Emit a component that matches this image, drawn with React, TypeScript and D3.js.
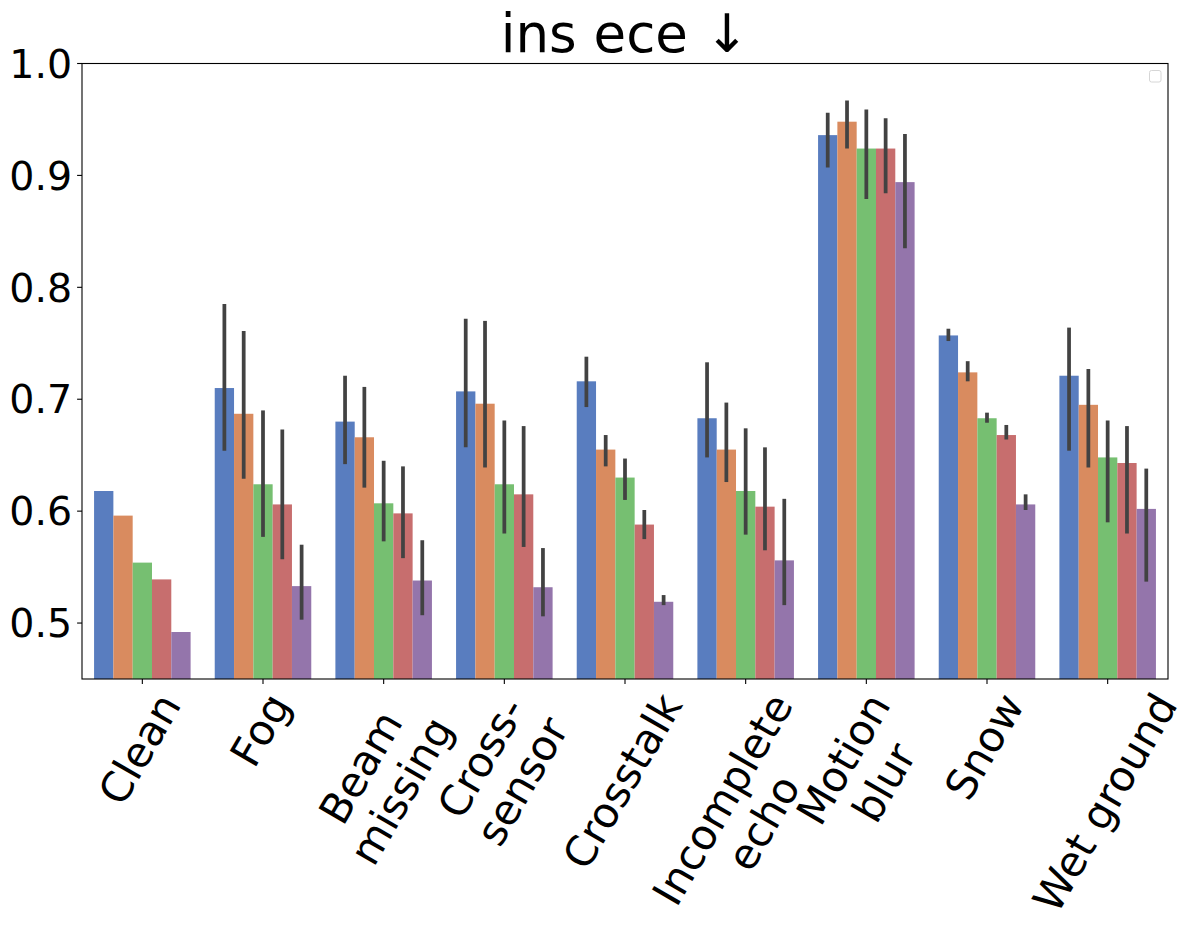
import React, { useEffect } from "react";
import * as d3 from "d3";

const categories = ["Clean", "Fog", "Beam\nmissing", "Cross-\nsensor", "Crosstalk", "Incomplete\necho", "Motion\nblur", "Snow", "Wet ground"];
const seriesNames = ["s1", "s2", "s3", "s4", "s5"];
const colors = ["#597dbf", "#d98b5f", "#76bf71", "#c76e6e", "#9475ab"];

const meanS1 = [0.618, 0.710, 0.680, 0.707, 0.716, 0.683, 0.936, 0.757, 0.721];
const meanS2 = [0.596, 0.687, 0.666, 0.696, 0.655, 0.655, 0.948, 0.724, 0.695];
const meanS3 = [0.554, 0.624, 0.607, 0.624, 0.630, 0.618, 0.924, 0.683, 0.648];
const meanS4 = [0.539, 0.606, 0.598, 0.615, 0.588, 0.604, 0.924, 0.668, 0.643];
const meanS5 = [0.492, 0.533, 0.538, 0.532, 0.519, 0.556, 0.894, 0.606, 0.602];

const loS1 = [null, 0.654, 0.642, 0.657, 0.693, 0.648, 0.907, 0.752, 0.654];
const hiS1 = [null, 0.785, 0.721, 0.772, 0.738, 0.733, 0.956, 0.763, 0.764];
const loS2 = [null, 0.629, 0.621, 0.639, 0.640, 0.626, 0.924, 0.716, 0.639];
const hiS2 = [null, 0.761, 0.711, 0.770, 0.668, 0.697, 0.967, 0.734, 0.727];
const loS3 = [null, 0.577, 0.573, 0.580, 0.610, 0.579, 0.879, 0.679, 0.590];
const hiS3 = [null, 0.690, 0.645, 0.681, 0.647, 0.674, 0.959, 0.688, 0.681];
const loS4 = [null, 0.557, 0.558, 0.568, 0.575, 0.565, 0.884, 0.664, 0.580];
const hiS4 = [null, 0.673, 0.640, 0.676, 0.601, 0.657, 0.951, 0.677, 0.676];
const loS5 = [null, 0.503, 0.507, 0.506, 0.516, 0.516, 0.835, 0.601, 0.537];
const hiS5 = [null, 0.570, 0.574, 0.567, 0.525, 0.611, 0.937, 0.615, 0.638];

const yTicks = [0.5, 0.6, 0.7, 0.8, 0.9, 1.0];
const title = "ins ece ↓";

const means = [meanS1, meanS2, meanS3, meanS4, meanS5];
const los = [loS1, loS2, loS3, loS4, loS5];
const his = [hiS1, hiS2, hiS3, hiS4, hiS5];

const W = 1194, H = 946;
const L = 82, R = 1168, T = 63.5, B = 679;
const FONT = "'DejaVu Sans', sans-serif";
const YTICK_FS = 39.5;
const XTICK_FS = 42;
const TITLE_FS = 53;

let ctx: CanvasRenderingContext2D | null = null;
function measure(text: string, fs: number) {
  if (!ctx) ctx = document.createElement("canvas").getContext("2d");
  if (!ctx) return text.length * fs * 0.6;
  ctx.font = `${fs}px "DejaVu Sans"`;
  return ctx.measureText(text).width;
}

export default function App() {
  useEffect(() => {
    document.body.style.margin = "0";
  }, []);

  const x0 = d3.scaleBand<string>().domain(categories).range([L, R]).paddingInner(0.2).paddingOuter(0.1);
  const x1 = d3.scaleBand<string>().domain(seriesNames).range([0, x0.bandwidth()]);
  const y = d3.scaleLinear().domain([0.45, 1.0]).range([B, T]);

  const lineGap = 1.12 * XTICK_FS;
  const firstH = 0.968 * XTICK_FS;
  const ascent = 0.76 * XTICK_FS;
  const rad = (60 * Math.PI) / 180;

  return (
    <svg width={W} height={H} style={{ display: "block", background: "#fff" }} fontFamily={FONT}>
      <defs>
        <clipPath id="plot">
          <rect x={L} y={T} width={R - L} height={B - T} />
        </clipPath>
      </defs>
      <g clipPath="url(#plot)">
        {categories.map((c, ci) =>
          seriesNames.map((s, si) => {
            const v = means[si][ci];
            const bx = (x0(c) as number) + (x1(s) as number);
            return (
              <rect key={`${ci}-${si}`} x={bx} y={y(v)} width={x1.bandwidth()} height={B - y(v)} fill={colors[si]} />
            );
          })
        )}
        {categories.map((c, ci) =>
          seriesNames.map((s, si) => {
            const lo = los[si][ci];
            const hi = his[si][ci];
            if (lo == null || hi == null) return null;
            const cx = (x0(c) as number) + (x1(s) as number) + x1.bandwidth() / 2;
            return (
              <line key={`e${ci}-${si}`} x1={cx} x2={cx} y1={y(lo)} y2={y(hi)} stroke="#424242" strokeWidth={3.75} />
            );
          })
        )}
      </g>
      <rect x={L} y={T} width={R - L} height={B - T} fill="none" stroke="#000" strokeWidth={1.1} />
      {yTicks.map((t) => (
        <g key={t}>
          <line x1={L - 4.9} x2={L} y1={y(t)} y2={y(t)} stroke="#000" strokeWidth={1.1} />
          <text x={L - 9.8} y={y(t)} dy="0.36em" textAnchor="end" fontSize={YTICK_FS} fill="#000">
            {t.toFixed(1)}
          </text>
        </g>
      ))}
      {categories.map((c) => {
        const tx = (x0(c) as number) + x0.bandwidth() / 2;
        const lines = c.split("\n");
        const w = Math.max(...lines.map((l) => measure(l, XTICK_FS)));
        const h = firstH + (lines.length - 1) * lineGap;
        const bh = w * Math.sin(rad) + h * Math.cos(rad);
        const cy = B + 9.8 + bh / 2;
        return (
          <g key={c}>
            <line x1={tx} x2={tx} y1={B} y2={B + 4.9} stroke="#000" strokeWidth={1.1} />
            <g transform={`translate(${tx},${cy}) rotate(-60)`}>
              {lines.map((l, li) => (
                <text key={li} x={0} y={-h / 2 + ascent + li * lineGap} textAnchor="middle" fontSize={XTICK_FS} fill="#000">
                  {l}
                </text>
              ))}
            </g>
          </g>
        );
      })}
      <text x={(L + R) / 2} y={52} textAnchor="middle" fontSize={TITLE_FS} fill="#000">
        {title}
      </text>
      <rect x={1149.5} y={70.5} width={11.5} height={11.5} rx={2} fill="#fff" stroke="#d6d6d6" strokeWidth={1} />
    </svg>
  );
}
